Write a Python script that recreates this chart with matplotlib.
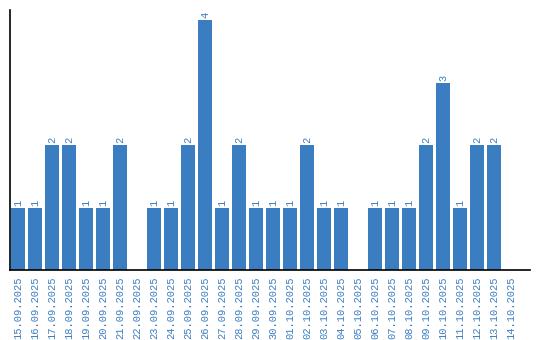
#!/usr/bin/env python3
"""Daily counts bar chart."""

import matplotlib
matplotlib.use('Agg')
import matplotlib.pyplot as plt

# =============================================================================
# Data
# =============================================================================
dates = ['15.09.2025', '16.09.2025', '17.09.2025', '18.09.2025', '19.09.2025',
         '20.09.2025', '21.09.2025', '22.09.2025', '23.09.2025', '24.09.2025',
         '25.09.2025', '26.09.2025', '27.09.2025', '28.09.2025', '29.09.2025',
         '30.09.2025', '01.10.2025', '02.10.2025', '03.10.2025', '04.10.2025',
         '05.10.2025', '06.10.2025', '07.10.2025', '08.10.2025', '09.10.2025',
         '10.10.2025', '11.10.2025', '12.10.2025', '13.10.2025', '14.10.2025']
counts = [1, 1, 2, 2, 1, 1, 2, 0, 1, 1,
          2, 4, 1, 2, 1, 1, 1, 2, 1, 1,
          0, 1, 1, 1, 2, 3, 1, 2, 2, 0]

BLUE = '#3b7dc1'
FONT = 'Liberation Mono'

# =============================================================================
# Plot
# =============================================================================
fig = plt.figure(figsize=(5.4, 3.4), dpi=100)
ax = fig.add_axes([10 / 540, 70 / 340, 520 / 540, 260 / 340])

x = list(range(len(dates)))
ax.bar(x, counts, width=0.82, color=BLUE, zorder=2)

for xi, c in zip(x, counts):
    if c > 0:
        ax.text(xi, c + 0.03, str(c), rotation=90, ha='center', va='bottom',
                color=BLUE, fontsize=7.5, family=FONT)

ax.set_xlim(-0.47, 30.12)
ax.set_ylim(0, 4.16)
ax.set_xticks(x)
ax.set_xticklabels(dates, rotation=90, color=BLUE, fontsize=7.5, family=FONT)
ax.tick_params(axis='x', length=0, pad=5)
ax.set_yticks([])

for side in ('top', 'right'):
    ax.spines[side].set_visible(False)
ax.spines['left'].set_linewidth(1.2)
ax.spines['bottom'].set_linewidth(1.2)

fig.savefig('out.png', dpi=100)
